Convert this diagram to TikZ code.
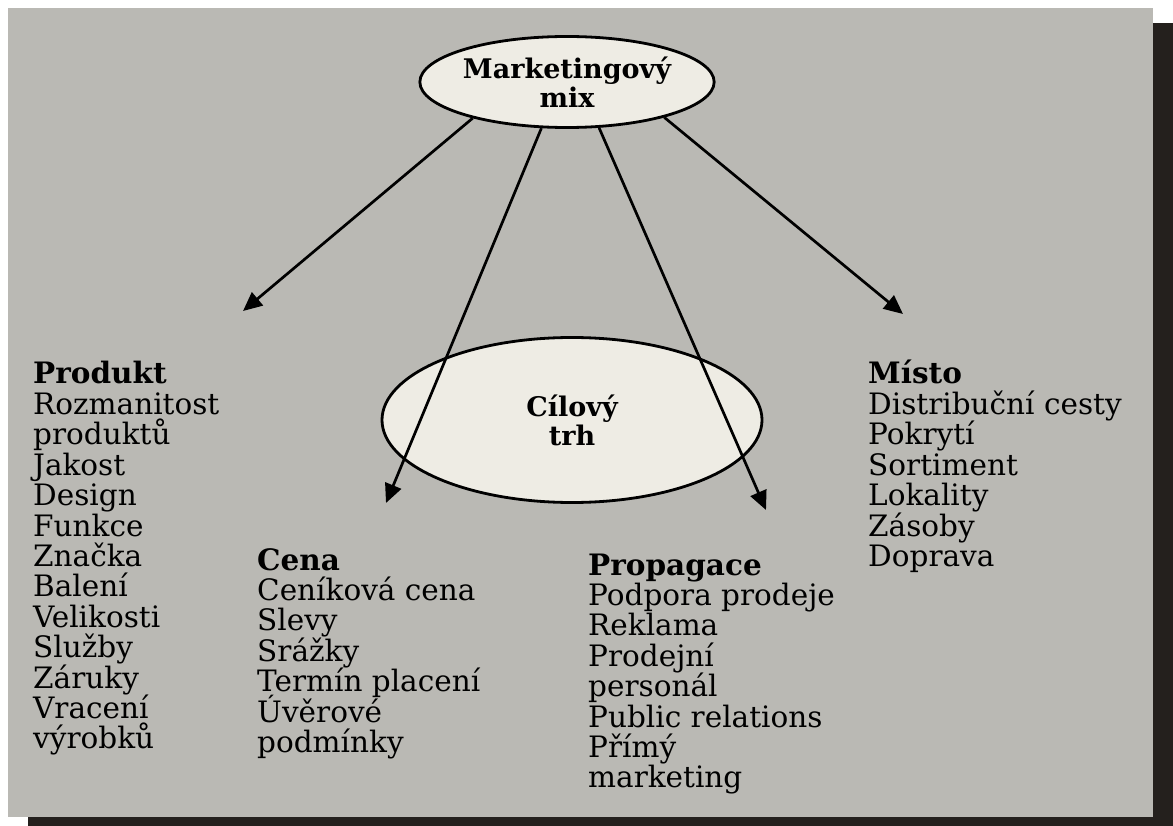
\documentclass[tikz,border=0pt]{standalone}
\usepackage{fontspec}
\setmainfont{DejaVu Serif}
\usetikzlibrary{shapes.geometric,arrows.meta}
\definecolor{paper}{RGB}{186,185,180}
\definecolor{cream}{RGB}{238,236,228}
\definecolor{darkedge}{RGB}{36,32,29}
\begin{document}
\begin{tikzpicture}[x=1pt,y=-1pt,
		oval/.style={ellipse,draw=black,line width=2.8pt,fill=cream,inner sep=0pt,align=center,font=\fontsize{27}{29}\selectfont\bfseries},
		head/.style={anchor=base west,inner sep=0pt,font=\fontsize{29.5}{30}\selectfont\bfseries},
		item/.style={anchor=base west,inner sep=0pt,font=\fontsize{29.5}{30}\selectfont},
		pointer/.style={line width=2.7pt,-{Triangle[length=19pt,width=17pt]}}]
			\useasboundingbox (0,0) rectangle (1173,826);
			\fill[white] (0,0) rectangle (1173,826);
			\fill[paper] (8,8) rectangle (1153,817);
			\fill[darkedge] (1153,23) rectangle (1173,826);
			\fill[darkedge] (28,817) rectangle (1173,826);
			% ellipses
			\node[oval,minimum width=380pt,minimum height=165pt] (trh) at (572,420) {Cílový\\trh};
			\node[oval,minimum width=245pt,minimum height=91pt] (mix) at (567,82) {Marketingový\\mix};
			\coordinate (tipP) at (243,311);
			\coordinate (tipC) at (386,503);
			\coordinate (tipR) at (766,510);
			\coordinate (tipM) at (903,314);
			\draw[pointer] (mix.201) -- (tipP);
			\draw[pointer] (mix.241) -- (tipC);
			\draw[pointer] (mix.305) -- (tipR);
			\draw[pointer] (mix.340) -- (tipM);
			% lists
			\node[head] (produkt) at (33,384) {Produkt};
			\foreach \w [count=\i] in {Rozmanitost,produktů,Jakost,Design,Funkce,Značka,Balení,Velikosti,Služby,Záruky,Vracení,výrobků}
				\node[item] (produkt-\i) at (33,{384+30.4*\i}) {\w};
			\node[head] (cena) at (257,570) {Cena};
			\foreach \w [count=\i] in {Ceníková cena,Slevy,Srážky,Termín placení,Úvěrové,podmínky}
				\node[item] (cena-\i) at (257,{570+30.4*\i}) {\w};
			\node[head] (propagace) at (588,575) {Propagace};
			\foreach \w [count=\i] in {Podpora prodeje,Reklama,Prodejní,personál,Public relations,Přímý,marketing}
				\node[item] (propagace-\i) at (588,{575+30.4*\i}) {\w};
			\node[head] (misto) at (868,384) {Místo};
			\foreach \w [count=\i] in {Distribuční cesty,Pokrytí,Sortiment,Lokality,Zásoby,Doprava}
				\node[item] (misto-\i) at (868,{384+30.4*\i}) {\w};
		\end{tikzpicture}
\end{document}
